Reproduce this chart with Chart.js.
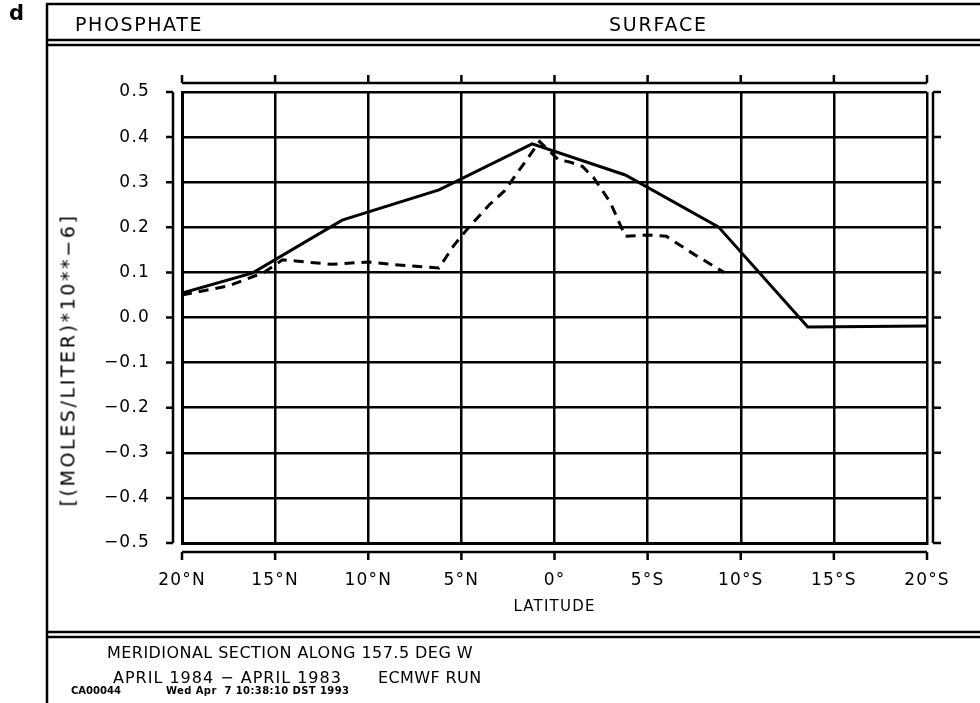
<!DOCTYPE html>
<html>
<head>
<meta charset="utf-8">
<title>Phosphate surface</title>
<script src="https://cdn.jsdelivr.net/npm/chart.js"></script>
<style>
  html, body { margin: 0; padding: 0; background: #fff; }
  #wrap { position: relative; width: 980px; height: 703px; overflow: hidden; }
  #chart { position: absolute; left: 0; top: 0; }
  .t { position: absolute; font-family: 'DejaVu Sans'; color: #000; white-space: pre; line-height: 1; }
  #ytitle { left: 68px; top: 360px; font-size: 19px; letter-spacing: 2.6px;
            transform: translate(-50%, -50%) rotate(-90deg); }
</style>
</head>
<body>
<div id="wrap">
  <canvas id="chart" width="980" height="703"></canvas>
  <div class="t" style="left:9px;top:3px;font-weight:bold;font-size:21px;">d</div>
  <div class="t" style="left:75px;top:15px;font-size:19px;letter-spacing:1.6px;">PHOSPHATE</div>
  <div class="t" style="left:609px;top:15px;font-size:19px;letter-spacing:1.8px;">SURFACE</div>
  <div class="t" id="ytitle">[(MOLES/LITER)*10**&minus;6]</div>
  <div class="t" style="left:107px;top:645px;font-size:16px;letter-spacing:0.45px;">MERIDIONAL SECTION ALONG 157.5 DEG W</div>
  <div class="t" style="left:113px;top:670px;font-size:16px;letter-spacing:1px;">APRIL 1984 &minus; APRIL 1983</div>
  <div class="t" style="left:378px;top:670px;font-size:16px;letter-spacing:0.4px;">ECMWF RUN</div>
  <div class="t" style="left:71px;top:686px;font-size:10px;font-weight:bold;">CA00044</div>
  <div class="t" style="left:166px;top:686px;font-size:10px;font-weight:bold;letter-spacing:0.4px;">Wed Apr  7 10:38:10 DST 1993</div>
</div>

<script>
// latitude axis: negative = north, positive = south
const latTicks = [-20, -15, -10, -5, 0, 5, 10, 15, 20];
const latLabels = ['20°N', '15°N', '10°N', '5°N', '0°', '5°S', '10°S', '15°S', '20°S'];
const valTicks = [0.5, 0.4, 0.3, 0.2, 0.1, 0.0, -0.1, -0.2, -0.3, -0.4, -0.5];
const valLabels = ['0.5', '0.4', '0.3', '0.2', '0.1', '0.0', '\u22120.1', '\u22120.2', '\u22120.3', '\u22120.4', '\u22120.5'];

// solid curve
const solidLat = [-20, -16.2, -11.4, -6.2, -1.2, 3.8, 8.8, 13.6, 20];
const solidVal = [0.054, 0.099, 0.216, 0.283, 0.385, 0.316, 0.201, -0.021, -0.019];

// dashed curve
const dashLat = [-20, -17.5, -15.6, -14.6, -12, -10, -8, -6.2, -5.4, -4.6, -3.5, -2.7, -0.8, 0.2, 0.8, 1.5, 2.1, 3.0, 3.8, 5.0, 6.0, 7.5, 9.1];
const dashVal = [0.05, 0.07, 0.10, 0.128, 0.118, 0.123, 0.115, 0.11, 0.16, 0.20, 0.25, 0.28, 0.39, 0.35, 0.345, 0.335, 0.31, 0.255, 0.18, 0.183, 0.18, 0.14, 0.10];

function pts(xs, ys) {
  return xs.map((x, i) => ({ x: x, y: ys[i] }));
}

function lookup(ticks, labels, v) {
  const i = ticks.findIndex(t => Math.abs(t - v) < 1e-6);
  return i < 0 ? '' : labels[i];
}

// wider letter spacing for the tick labels
const spacing = {
  id: 'spacing',
  beforeLayout(chart) { chart.ctx.letterSpacing = '1.2px'; },
  beforeDraw(chart) { chart.ctx.letterSpacing = '1.2px'; }
};

// offset bracket axes + page frames
const frames = {
  id: 'frames',
  afterDraw(chart) {
    const c = chart.ctx;
    const xs = chart.scales.x, ys = chart.scales.y;
    c.save();
    c.strokeStyle = '#000';
    c.lineWidth = 2.5;
    c.lineCap = 'butt';
    const x0 = xs.getPixelForValue(-20), x1 = xs.getPixelForValue(20);
    const y0 = ys.getPixelForValue(0.5), y1 = ys.getPixelForValue(-0.5);

    c.beginPath();
    // left bracket
    c.moveTo(x0 - 9, y0); c.lineTo(x0 - 9, y1);
    valTicks.forEach(v => { const p = ys.getPixelForValue(v); c.moveTo(x0 - 9, p); c.lineTo(x0 - 16, p); });
    // right bracket
    c.moveTo(x1 + 6, y0); c.lineTo(x1 + 6, y1);
    valTicks.forEach(v => { const p = ys.getPixelForValue(v); c.moveTo(x1 + 6, p); c.lineTo(x1 + 14, p); });
    // top bracket
    c.moveTo(x0, y0 - 9); c.lineTo(x1, y0 - 9);
    latTicks.forEach(v => { const p = xs.getPixelForValue(v); c.moveTo(p, y0 - 9); c.lineTo(p, y0 - 17); });
    // bottom bracket
    c.moveTo(x0, y1 + 9); c.lineTo(x1, y1 + 9);
    latTicks.forEach(v => { const p = xs.getPixelForValue(v); c.moveTo(p, y1 + 9); c.lineTo(p, y1 + 17); });
    c.stroke();

    // page boxes
    c.beginPath();
    c.moveTo(47, 4); c.lineTo(47, 703);
    c.moveTo(46, 4); c.lineTo(980, 4);
    c.moveTo(46, 40); c.lineTo(980, 40);
    c.moveTo(46, 45); c.lineTo(980, 45);
    c.moveTo(46, 632); c.lineTo(980, 632);
    c.moveTo(46, 637); c.lineTo(980, 637);
    c.stroke();
    c.restore();
  }
};

const ctx = document.getElementById('chart').getContext('2d');
const chart = new Chart(ctx, {
  type: 'scatter',
  data: {
    datasets: [
      {
        data: pts(solidLat, solidVal),
        showLine: true,
        borderColor: '#000',
        borderWidth: 3,
        pointRadius: 0,
        tension: 0
      },
      {
        data: pts(dashLat, dashVal),
        showLine: true,
        borderColor: '#000',
        borderWidth: 3,
        borderDash: [10, 7],
        pointRadius: 0,
        tension: 0
      }
    ]
  },
  options: {
    responsive: false,
    animation: false,
    layout: { padding: { left: 47, top: 92, right: 53, bottom: 83 } },
    plugins: { legend: { display: false }, tooltip: { enabled: false } },
    scales: {
      x: {
        type: 'linear',
        min: -20, max: 20,
        afterFit(s) { s.height = 77; },
        afterBuildTicks(s) { s.ticks = latTicks.map(v => ({ value: v })); },
        grid: { color: '#000', lineWidth: 2.5, drawTicks: false },
        border: { display: true, color: '#000', width: 3 },
        ticks: {
          padding: 27,
          color: '#000',
          font: { family: 'DejaVu Sans', size: 17 },
          maxRotation: 0,
          callback: v => lookup(latTicks, latLabels, v)
        },
        title: {
          display: true,
          text: 'LATITUDE',
          color: '#000',
          font: { family: 'DejaVu Sans', size: 15 },
          padding: { top: 0, bottom: 4 }
        }
      },
      y: {
        type: 'linear',
        min: -0.5, max: 0.5,
        afterFit(s) { s.width = 135; },
        afterBuildTicks(s) { s.ticks = valTicks.map(v => ({ value: v })); },
        grid: { color: '#000', lineWidth: 2.5, drawTicks: false },
        border: { display: true, color: '#000', width: 3 },
        ticks: {
          padding: 32,
          color: '#000',
          font: { family: 'DejaVu Sans', size: 17 },
          callback: v => lookup(valTicks, valLabels, v)
        }
      }
    }
  },
  plugins: [spacing, frames]
});
</script>
</body>
</html>
